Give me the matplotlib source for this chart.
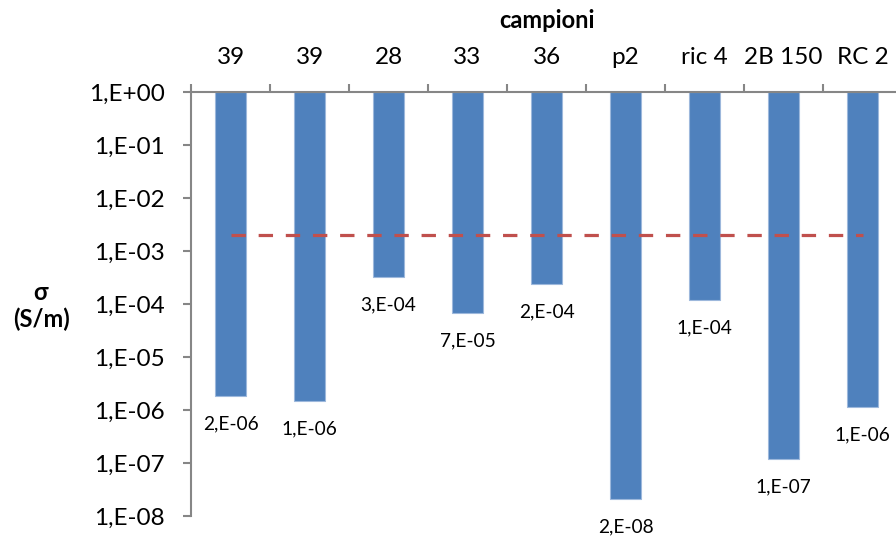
import matplotlib.pyplot as plt
from matplotlib.ticker import FixedLocator, FuncFormatter, NullFormatter
import numpy as np

# campioni e conducibilita' (S/m)
campioni = ['39', '39', '28', '33', '36', 'p2', 'ric 4', '2B 150', 'RC 2']
sigma = [1.82e-6, 1.48e-6, 3.2e-4, 6.7e-5, 2.36e-4, 2.06e-8, 1.18e-4, 1.2e-7, 1.15e-6]
soglia = 2e-3

plt.rcParams['font.family'] = ['Lato', 'DejaVu Sans']

def expLabel(v):
    # 1,E-04 style (excel-ish)
    s = f"{v:.0E}"
    m, e = s.split('E')
    return m + ',E' + e

fig = plt.figure(figsize=(8.96, 5.36), dpi=100)
ax = fig.add_axes([191/896, 1 - 516/536, 711/896, (516 - 92)/536])

x = np.arange(len(campioni))
ax.bar(x, [1 - v for v in sigma], bottom=sigma, width=0.39,
       color='#4F81BD', edgecolor='#9DB8DC', linewidth=0.8, zorder=2)

# linea di soglia
ax.plot([x[0], x[-1]], [soglia, soglia], color='#C0504D', lw=2.3,
        dashes=(4.5, 4), zorder=3)

for xi, v in zip(x, sigma):
    ax.annotate(expLabel(v), (xi, v), xytext=(0, -14), textcoords='offset points',
                ha='center', va='top', fontsize=13.8)

ax.set_yscale('log')
ax.set_ylim(1e-8, 1)
ax.set_xlim(-0.5, len(campioni) - 0.5)

ax.yaxis.set_major_locator(FixedLocator([10.0**-k for k in range(9)]))
ax.yaxis.set_minor_formatter(NullFormatter())
ax.yaxis.set_minor_locator(FixedLocator([]))
ax.yaxis.set_major_formatter(FuncFormatter(lambda v, p: expLabel(v)))
ax.tick_params(axis='y', which='major', direction='out', length=6, width=1.5,
               color='#868686', labelsize=17.5, pad=13)

ax.xaxis.tick_top()
ax.set_xticks(x)
ax.set_xticklabels(campioni)
ax.set_xticks(np.arange(len(campioni) + 1) - 0.5, minor=True)
ax.tick_params(axis='x', which='major', length=0, labelsize=17.5, pad=17)
ax.tick_params(axis='x', which='minor', direction='out', length=6, width=1.5,
               color='#868686')

for s in ['right', 'bottom']:
    ax.spines[s].set_visible(False)
for s in ['left', 'top']:
    ax.spines[s].set_color('#868686')
    ax.spines[s].set_linewidth(1.5)

fig.text((191 + 902) / 2 / 896, 1 - 20/536, 'campioni', ha='center', va='center',
         fontsize=17, fontweight='bold')
fig.text(41/896, 1 - 306/536, 'σ\n(S/m)', ha='center', va='center',
         fontsize=17, fontweight='bold', linespacing=1.2)

fig.savefig('out.png', dpi=100)
